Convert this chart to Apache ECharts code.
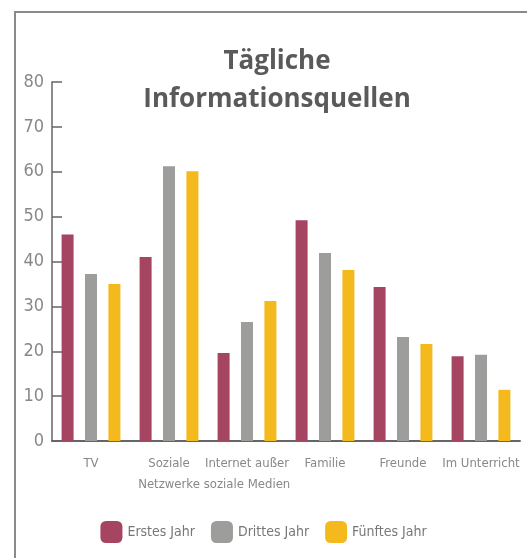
<!DOCTYPE html>
<html>
<head>
<meta charset="utf-8">
<script src="https://cdn.jsdelivr.net/npm/echarts@6/dist/echarts.min.js"></script>
<style>
  html, body { margin: 0; padding: 0; background: #fff; }
  .frame {
    position: absolute; left: 14px; top: 11px; width: 600px; height: 600px;
    border-left: 2px solid #8a8a8a; border-top: 2px solid #8a8a8a;
  }
  #chart { position: absolute; left: 0; top: 0; width: 527px; height: 558px; }
</style>
</head>
<body>
<div class="frame"></div>
<div id="chart"></div>
<script>
  // Kategorien und Werte (Prozent)
  var categories = ['TV', 'Soziale\nNetzwerke', 'Internet außer\nsoziale Medien', 'Familie', 'Freunde', 'Im Unterricht'];
  var erstesJahr = [46, 41, 19.6, 49.2, 34.3, 18.9];
  var drittesJahr = [37.2, 61.2, 26.5, 41.9, 23.2, 19.2];
  var fuenftesJahr = [35, 60.1, 31.2, 38.1, 21.6, 11.4];

  var font = "'DejaVu Sans Condensed', 'Liberation Sans Narrow', sans-serif";

  var myChart = echarts.init(document.getElementById('chart'));
  myChart.setOption({
    animation: false,
    title: {
      text: 'Tägliche\nInformationsquellen',
      left: 272,
      top: 38,
      textAlign: 'center',
      textStyle: {
        fontFamily: "'Open Sans', 'Noto Sans', sans-serif",
        fontWeight: 'bold',
        fontSize: 26,
        lineHeight: 38,
        color: '#5a5a5a'
      }
    },
    legend: {
      data: ['Erstes Jahr', 'Drittes Jahr', 'Fünftes Jahr'],
      left: 'center',
      top: 516,
      icon: 'roundRect',
      itemWidth: 22,
      itemHeight: 22,
      itemGap: 16,
      textStyle: { fontFamily: font, fontSize: 14, color: '#777' }
    },
    grid: { left: 52, right: 7, top: 82, bottom: 117 },
    xAxis: {
      type: 'category',
      data: categories,
      axisLine: { lineStyle: { color: '#666', width: 2 } },
      axisTick: { inside: true, length: 8, lineStyle: { color: '#666', width: 1.5 } },
      axisLabel: {
        fontFamily: font, fontSize: 13, color: '#888', lineHeight: 21,
        margin: 12, interval: 0
      }
    },
    yAxis: {
      type: 'value',
      min: 0, max: 80, interval: 10,
      splitLine: { show: false },
      axisLine: { show: true, lineStyle: { color: '#666', width: 1.5 } },
      axisTick: { show: true, inside: true, length: 10, lineStyle: { color: '#666', width: 1.5 } },
      axisLabel: { fontFamily: font, fontSize: 18, color: '#888', margin: 8 }
    },
    series: [
      { name: 'Erstes Jahr', type: 'bar', barWidth: 12, barGap: '95%', itemStyle: { color: '#a64562' }, data: erstesJahr },
      { name: 'Drittes Jahr', type: 'bar', barWidth: 12, barGap: '95%', itemStyle: { color: '#9d9d9c' }, data: drittesJahr },
      { name: 'Fünftes Jahr', type: 'bar', barWidth: 12, barGap: '95%', itemStyle: { color: '#f3b91d' }, data: fuenftesJahr }
    ]
  });
</script>
</body>
</html>
